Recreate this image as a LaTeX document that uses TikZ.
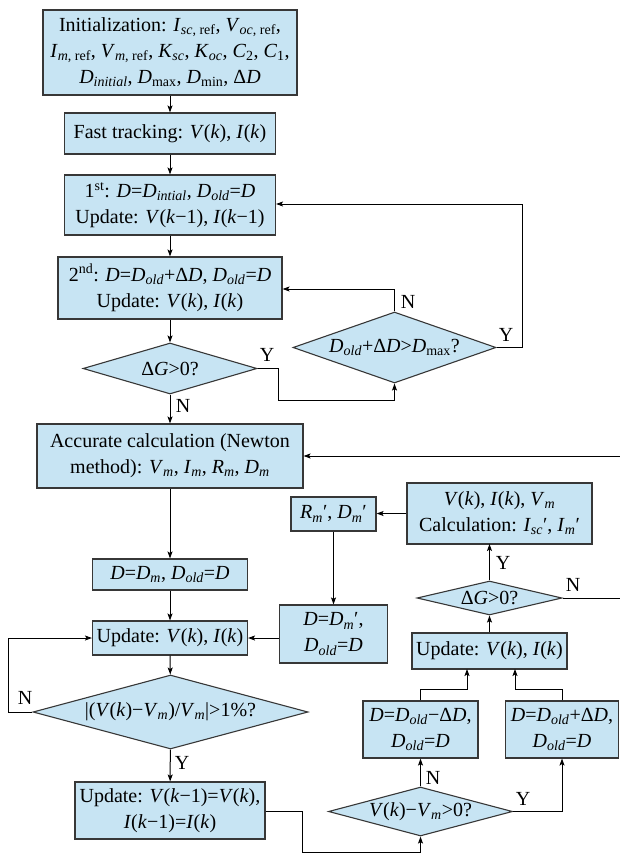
\documentclass[tikz,border=0pt]{standalone}
\usepackage{fontspec}
\setmainfont{Liberation Serif}
\usetikzlibrary{shapes.geometric,arrows.meta}
\definecolor{boxfill}{RGB}{199,228,243}
\definecolor{boxline}{RGB}{55,55,55}
\newcommand\iv[1]{\textit{#1}}
\newcommand\sbi[1]{\textsubscript{\textit{#1}}}
\newcommand\sbu[1]{\textsubscript{#1}}
\tikzset{
  box/.style={draw=boxline, line width=1.1pt, fill=boxfill, inner sep=0pt, align=center,
    font=\fontsize{20}{26}\selectfont},
  dia/.style={draw=boxline, line width=1.1pt, fill=boxfill, diamond, inner sep=0pt,
    font=\fontsize{20}{26}\selectfont},
  arr/.style={draw=black, line width=1pt, -{Stealth[length=7pt,width=5pt,inset=1.5pt]}},
  ln/.style={draw=black, line width=1pt},
  lab/.style={font=\fontsize{20}{24}\selectfont, inner sep=0pt}
}
\begin{document}
\begin{tikzpicture}[x=1pt,y=-1pt]
\useasboundingbox (0,0) rectangle (620,853);
% left column
\node[box, minimum width=254pt, minimum height=85pt] (init) at (170,52.5)
  {Initialization: \iv{I}\textsubscript{\textit{sc}, ref}, \iv{V}\textsubscript{\textit{oc}, ref},\\
   \iv{I}\textsubscript{\textit{m}, ref}, \iv{V}\textsubscript{\textit{m}, ref}, \iv{K}\sbi{sc}, \iv{K}\sbi{oc}, \iv{C}\sbu{2}, \iv{C}\sbu{1},\\
   \iv{D}\sbi{initial}, \iv{D}\sbu{max}, \iv{D}\sbu{min}, Δ\iv{D}};
\node[box, minimum width=211pt, minimum height=41pt] (fast) at (170,133.5)
  {Fast tracking: \iv{V}(\iv{k}), \iv{I}(\iv{k})};
\node[box, minimum width=211pt, minimum height=60pt] (first) at (170,205)
  {1\textsuperscript{st}: \iv{D}=\iv{D}\sbi{intial}, \iv{D}\sbi{old}=\iv{D}\\
   Update: \iv{V}(\iv{k}−1), \iv{I}(\iv{k}−1)};
\node[box, minimum width=224pt, minimum height=62pt] (second) at (170,288)
  {2\textsuperscript{nd}: \iv{D}=\iv{D}\sbi{old}+Δ\iv{D}, \iv{D}\sbi{old}=\iv{D}\\
   Update: \iv{V}(\iv{k}), \iv{I}(\iv{k})};
\node[dia, minimum width=174pt, minimum height=51pt,
  label={[font=\fontsize{20}{26}\selectfont]center:Δ\iv{G}>0?}] (dg1) at (170,368.5) {};
\node[dia, minimum width=203pt, minimum height=71pt,
  label={[font=\fontsize{20}{26}\selectfont]center:\iv{D}\sbi{old}+Δ\iv{D}>\iv{D}\sbu{max}?}] (dmax) at (394.5,347.5) {};
\node[box, minimum width=266pt, minimum height=64pt] (acc) at (170,456)
  {Accurate calculation (Newton\\
   method): \iv{V}\sbi{m}, \iv{I}\sbi{m}, \iv{R}\sbi{m}, \iv{D}\sbi{m}};
\node[box, minimum width=155pt, minimum height=31pt] (dm) at (170,574.5)
  {\iv{D}=\iv{D}\sbi{m}, \iv{D}\sbi{old}=\iv{D}};
\node[box, minimum width=155pt, minimum height=34pt] (upd1) at (170,638)
  {Update: \iv{V}(\iv{k}), \iv{I}(\iv{k})};
\node[dia, minimum width=275pt, minimum height=74pt,
  label={[font=\fontsize{20}{26}\selectfont]center:|(\iv{V}(\iv{k})−\iv{V}\sbi{m})/\iv{V}\sbi{m}|>1\%?}] (pct) at (170.5,712) {};
\node[box, minimum width=190pt, minimum height=57pt] (upd2) at (170,810.5)
  {Update: \iv{V}(\iv{k}−1)=\iv{V}(\iv{k}),\\
   \iv{I}(\iv{k}−1)=\iv{I}(\iv{k})};
% right part
\node[box, minimum width=185pt, minimum height=61pt] (calc) at (499.5,513.5)
  {\iv{V}(\iv{k}), \iv{I}(\iv{k}), \iv{V}\sbi{m}\\
   Calculation: \iv{I}\sbi{sc}′, \iv{I}\sbi{m}′};
\node[box, minimum width=85pt, minimum height=34pt] (rm) at (333.5,514)
  {\iv{R}\sbi{m}′, \iv{D}\sbi{m}′};
\node[box, minimum width=108pt, minimum height=58pt] (dmp) at (333.5,634)
  {\iv{D}=\iv{D}\sbi{m}′,\\ \iv{D}\sbi{old}=\iv{D}};
\node[dia, minimum width=145pt, minimum height=34pt,
  label={[font=\fontsize{20}{26}\selectfont]center:Δ\iv{G}>0?}] (dg2) at (489.5,598) {};
\node[box, minimum width=155pt, minimum height=36pt] (upd3) at (489.5,651)
  {Update: \iv{V}(\iv{k}), \iv{I}(\iv{k})};
\node[box, minimum width=115pt, minimum height=57pt] (minus) at (420.5,729.5)
  {\iv{D}=\iv{D}\sbi{old}−Δ\iv{D},\\ \iv{D}\sbi{old}=\iv{D}};
\node[box, minimum width=113pt, minimum height=57pt] (plus) at (562,729.5)
  {\iv{D}=\iv{D}\sbi{old}+Δ\iv{D},\\ \iv{D}\sbi{old}=\iv{D}};
\node[dia, minimum width=184pt, minimum height=49pt,
  label={[font=\fontsize{20}{26}\selectfont]center:\iv{V}(\iv{k})−\iv{V}\sbi{m}>0?}] (vm) at (420.5,811.5) {};
\coordinate (accin) at (620,456);
\coordinate (dg2out) at (620,598);
% connectors
\draw[arr] (init) -- (fast);
\draw[arr] (fast) -- (first);
\draw[arr] (first) -- (second);
\draw[arr] (second) -- (dg1);
\draw[arr] (dg1) -- (acc);
\draw[arr] (dg1.east) -- (278,368.5) -- (278,400) -- (394.5,400) -- (dmax.south);
\draw[arr] (dmax.north) -- (394.5,289) -- (second.east |- 0,289);
\draw[arr] (dmax.east) -- (522,347.5) -- (522,204) -- (first.east |- 0,204);
\draw[arr] (acc) -- (dm);
\draw[arr] (dm) -- (upd1);
\draw[arr] (upd1) -- (pct);
\draw[arr] (pct.west) -- (8,712) -- (8,638) -- (upd1.west);
\draw[arr] (pct) -- (upd2);
\draw[arr] (upd2.east |- 0,811) -- (302,811) -- (302,852) -- (420.5,852) -- (vm.south);
\draw[arr] (vm) -- (minus);
\draw[arr] (vm.east) -- (562,811.5) -- (plus.south);
\draw[arr] (minus.north) -- (420.5,689) -- (467,689) -- (467,669);
\draw[arr] (plus.north) -- (562,689) -- (515,689) -- (515,669);
\draw[arr] (upd3) -- (dg2);
\draw[arr] (dg2.north) -- (489.5,544);
\draw[ln] (dg2.east) -- (dg2out);
\draw[arr] (accin) -- (acc.east);
\draw[arr] (calc.west |- 0,513.5) -- (rm.east |- 0,513.5);
\draw[arr] (rm) -- (dmp);
\draw[arr] (dmp.west |- 0,638) -- (upd1.east);
% labels
\node[lab] (l1) at (183,406) {N};
\node[lab] (l2) at (267,355) {Y};
\node[lab] (l3) at (408,302) {N};
\node[lab] (l4) at (506,335) {Y};
\node[lab] (l5) at (25,698) {N};
\node[lab] (l6) at (182,763) {Y};
\node[lab] (l7) at (433,778) {N};
\node[lab] (l8) at (523,799) {Y};
\node[lab] (l9) at (503,563) {Y};
\node[lab] (l10) at (573,585) {N};
\end{tikzpicture}
\end{document}
